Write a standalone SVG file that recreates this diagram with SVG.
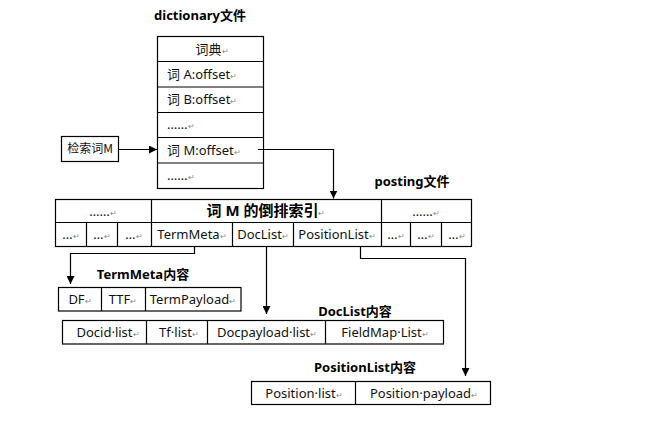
<svg xmlns="http://www.w3.org/2000/svg" width="654" height="421" viewBox="0 0 654 421">
<style>
.box{fill:#fff;stroke:#000;stroke-width:1.2}
.ln{fill:none;stroke:#000;stroke-width:1.2}
.t{font-family:"Noto Sans","Noto Sans CJK SC",sans-serif;font-size:13px;fill:#111;text-anchor:middle}
.tl{font-family:"Noto Sans","Noto Sans CJK SC",sans-serif;font-size:13px;fill:#111}
.h{font-family:"Noto Sans","Noto Sans CJK SC",sans-serif;font-size:13px;font-weight:bold;fill:#000;text-anchor:middle}
.h2{font-family:"Noto Sans","Noto Sans CJK SC",sans-serif;font-size:15px;font-weight:bold;fill:#000;text-anchor:middle}
.r{font-size:8px;fill:#888}
.conn{fill:none;stroke:#000;stroke-width:1.2;marker-end:url(#arr)}
</style>
<defs>
<marker id="arr" viewBox="0 0 10 10" refX="10" refY="5" markerWidth="8" markerHeight="8" markerUnits="userSpaceOnUse" orient="auto">
<path d="M0,0 L10,5 L0,10 z" fill="#000"/>
</marker>
</defs>
<rect width="654" height="421" fill="#fff"/>

<text class="h" x="200" y="20">dictionary文件</text>
<text class="h" x="412" y="186">posting文件</text>
<text class="h" x="143" y="279">TermMeta内容</text>
<text class="h" x="355" y="316">DocList内容</text>
<text class="h" x="365" y="372">PositionList内容</text>

<g id="dictionary">
<rect class="box" x="157.5" y="36.5" width="106" height="152"/>
<path class="ln" d="M157.5,61.5H263.5M157.5,87H263.5M157.5,112.5H263.5M157.5,137.5H263.5M157.5,163H263.5"/>
<text class="t" x="212" y="54">词典<tspan class="r">↵</tspan></text>
<text class="tl" x="167" y="79">词 A:offset<tspan class="r">↵</tspan></text>
<text class="tl" x="167" y="104">词 B:offset<tspan class="r">↵</tspan></text>
<text class="tl" x="167" y="129">……<tspan class="r">↵</tspan></text>
<text class="tl" x="167" y="155">词 M:offset<tspan class="r">↵</tspan></text>
<text class="tl" x="167" y="180">……<tspan class="r">↵</tspan></text>
</g>

<g id="search">
<rect class="box" x="61.5" y="136.5" width="57" height="25"/>
<text class="t" x="90" y="153" style="font-family:'Noto Sans CJK SC','Noto Sans',sans-serif;font-size:12px">检索词M</text>
</g>

<g id="posting">
<rect class="box" x="55.5" y="199.5" width="416" height="47"/>
<path class="ln" d="M55.5,222.5H471.5M151.5,199.5V246.5M381.5,199.5V246.5M86.5,222.5V246.5M117.5,222.5V246.5M232.5,222.5V246.5M293.5,222.5V246.5M410.5,222.5V246.5M441.5,222.5V246.5"/>
<text class="t" x="103" y="216">……<tspan class="r">↵</tspan></text>
<text class="h2" x="266" y="216">词 M 的倒排索引<tspan class="r" style="font-weight:normal">↵</tspan></text>
<text class="t" x="426" y="216">……<tspan class="r">↵</tspan></text>
<text class="t" x="71" y="239">…<tspan class="r">↵</tspan></text>
<text class="t" x="102" y="239">…<tspan class="r">↵</tspan></text>
<text class="t" x="134" y="239">…<tspan class="r">↵</tspan></text>
<text class="t" x="192" y="239">TermMeta<tspan class="r">↵</tspan></text>
<text class="t" x="263" y="239">DocList<tspan class="r">↵</tspan></text>
<text class="t" x="337" y="239">PositionList<tspan class="r">↵</tspan></text>
<text class="t" x="396" y="239">…<tspan class="r">↵</tspan></text>
<text class="t" x="426" y="239">…<tspan class="r">↵</tspan></text>
<text class="t" x="457" y="239">…<tspan class="r">↵</tspan></text>
</g>

<g id="termmeta">
<rect class="box" x="58.5" y="287.5" width="182.5" height="23.5"/>
<path class="ln" d="M101.5,287.5V311M145.5,287.5V311"/>
<text class="t" x="80" y="304">DF<tspan class="r">↵</tspan></text>
<text class="t" x="123" y="304">TTF<tspan class="r">↵</tspan></text>
<text class="t" x="193" y="304">TermPayload<tspan class="r">↵</tspan></text>
</g>

<g id="doclist">
<rect class="box" x="62.5" y="320.5" width="381" height="23.5"/>
<path class="ln" d="M146.5,320.5V344M207.5,320.5V344M325.5,320.5V344"/>
<text class="t" x="108" y="337">Docid·list<tspan class="r">↵</tspan></text>
<text class="t" x="179" y="337">Tf·list<tspan class="r">↵</tspan></text>
<text class="t" x="267" y="337">Docpayload·list<tspan class="r">↵</tspan></text>
<text class="t" x="385" y="337">FieldMap·List<tspan class="r">↵</tspan></text>
</g>

<g id="positionlist">
<rect class="box" x="251.5" y="381.5" width="239" height="23"/>
<path class="ln" d="M355.5,381.5V404.5"/>
<text class="t" x="304" y="398">Position·list<tspan class="r">↵</tspan></text>
<text class="t" x="424" y="398">Position·payload<tspan class="r">↵</tspan></text>
</g>

<g id="connectors">
<path class="conn" d="M118.5,149.5H157"/>
<path class="conn" d="M258,149.5H333.5V198.5"/>
<path class="conn" d="M194.5,246.5V253.5H70.5V284"/>
<path class="conn" d="M266.5,246.5V314"/>
<path class="conn" d="M360.5,246.5V258.5H465.5V376"/>
</g>
</svg>
